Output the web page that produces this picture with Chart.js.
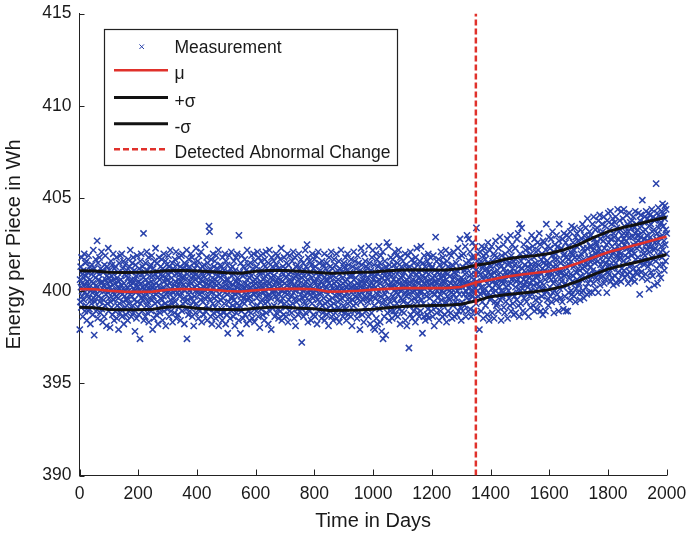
<!DOCTYPE html>
<html><head><meta charset="utf-8">
<script src="https://cdn.jsdelivr.net/npm/chart.js@4.4.1/dist/chart.umd.min.js"></script>
<style>html,body{margin:0;padding:0;background:#fff}canvas{display:block}</style>
</head><body>
<canvas id="c" width="686" height="533" style="width:686px;height:533px"></canvas>
<script>
// Measurement: one value per day (day 1 .. 2000), Energy per Piece in Wh
const measurement = [
397.9,400.6,399.4,401.3,400.2,399.1,401.8,400.4,399.7,400.9,398.6,400.0,401.1,399.5,400.7,402.0,399.9,398.9,400.3,401.5,
400.8,399.2,400.1,401.6,398.4,400.5,399.8,401.0,400.3,398.9,401.9,399.6,400.2,399.0,401.3,400.6,398.2,400.0,401.1,399.5,
399.3,400.9,401.4,399.9,398.7,400.4,402.2,399.6,400.1,397.6,401.2,400.0,399.4,400.7,401.7,398.9,400.3,399.8,401.0,402.7,
400.2,398.5,401.5,399.7,400.6,399.1,400.9,401.8,399.4,400.0,398.8,401.2,400.4,399.6,402.1,399.0,400.5,401.1,398.3,400.1,
401.0,399.5,400.3,398.6,401.4,400.0,399.2,401.9,400.6,399.8,400.1,398.1,400.8,401.3,399.3,400.4,399.9,402.3,398.9,400.7,
399.6,401.1,400.2,398.0,400.5,399.4,401.6,400.0,399.1,400.8,401.4,398.7,399.9,400.3,402.0,399.5,400.6,398.4,401.2,399.8,
400.4,398.9,401.3,399.7,400.0,401.8,398.5,400.7,399.2,400.2,401.0,399.6,397.9,400.5,401.5,399.3,400.1,398.8,401.9,399.9,
400.6,399.0,400.3,402.0,398.6,399.8,401.2,400.1,399.4,401.6,398.2,400.4,399.7,400.9,401.4,399.1,400.0,398.7,400.8,399.5,
401.1,399.6,400.2,398.4,400.7,401.7,399.3,400.0,398.9,401.3,400.5,399.8,402.2,399.0,400.3,398.6,401.0,399.7,400.6,401.5,
399.2,400.4,401.8,398.8,400.1,399.5,401.1,400.6,397.8,400.0,401.4,399.9,400.8,398.5,400.3,401.9,399.4,400.2,399.1,400.9,
400.5,398.7,401.2,399.8,400.0,397.4,401.6,399.3,400.4,402.0,399.6,400.9,398.9,400.2,401.3,399.5,400.7,403.1,398.4,400.1,
399.7,401.0,400.3,398.6,401.5,399.9,400.6,399.2,402.1,400.0,398.8,401.1,399.4,400.4,401.8,398.3,400.2,399.6,400.8,401.3,
400.0,399.1,401.4,398.9,400.5,401.9,399.5,400.2,397.9,400.8,401.2,399.7,400.3,398.5,401.6,400.1,399.3,400.9,402.3,399.8,
400.4,398.7,400.0,401.5,399.4,400.7,398.2,401.0,399.9,400.3,401.8,399.0,400.6,398.8,400.1,401.3,399.6,400.9,399.2,401.7,
399.5,400.8,398.4,401.2,400.2,399.7,402.0,398.9,400.5,401.1,399.3,400.0,401.6,398.1,400.7,399.8,401.4,400.3,399.0,400.9,
400.6,399.2,401.9,400.0,398.6,401.3,399.8,400.4,402.2,399.5,400.1,398.9,401.0,400.7,399.3,401.5,398.3,400.2,401.2,399.9,
401.1,399.6,400.3,398.8,401.7,400.5,399.4,400.0,402.1,398.5,400.9,401.4,399.9,400.2,398.7,401.0,400.6,399.1,401.8,400.4,
399.7,400.9,401.3,398.4,400.5,399.9,401.9,400.1,398.9,400.7,402.0,399.3,400.3,401.2,399.6,400.8,398.2,401.5,400.0,399.4,
400.6,401.4,399.0,400.2,402.2,397.4,400.9,399.5,401.1,400.3,398.7,401.7,399.8,400.0,401.3,398.9,400.5,399.2,402.0,400.7,
399.6,400.4,401.8,398.6,400.1,401.0,399.4,400.8,398.1,401.5,400.2,399.7,401.2,400.6,398.8,400.0,402.3,399.3,400.9,401.4,
400.3,399.1,401.6,400.0,398.5,400.7,401.9,399.8,400.4,398.9,401.2,400.1,399.5,402.1,400.6,398.3,401.0,399.9,400.5,401.3,
399.4,400.8,398.7,401.4,400.2,399.6,402.5,400.0,398.9,401.1,400.4,399.2,401.8,400.6,398.4,400.1,401.5,399.7,400.9,399.0,
403.5,400.3,403.2,399.5,401.2,400.0,398.6,401.7,399.9,400.5,398.2,401.0,400.7,399.3,402.0,400.2,398.8,401.3,399.6,400.4,
401.6,399.1,400.6,398.5,400.0,401.9,399.7,400.3,398.9,401.2,400.8,399.4,402.2,398.1,400.4,401.0,399.8,400.1,398.7,401.4,
399.5,400.7,401.3,399.0,400.2,398.4,401.8,400.0,399.6,400.9,398.8,401.1,399.3,400.5,402.0,399.9,400.3,398.2,401.6,400.6,
400.1,398.7,401.4,399.8,397.7,400.6,401.0,399.4,400.2,401.9,399.1,400.4,398.5,401.2,400.0,399.6,402.1,398.9,400.8,399.7,
401.3,399.2,400.3,398.6,400.9,401.6,399.5,400.0,398.1,401.1,400.5,399.8,401.8,398.8,400.2,399.3,402.0,400.7,399.0,400.4,
399.9,398.4,403.0,400.6,399.2,401.0,400.1,397.7,401.5,399.7,400.3,398.9,401.9,400.0,399.4,400.8,398.5,401.3,399.6,400.2,
400.9,399.3,401.7,398.7,400.4,399.8,401.1,400.0,398.2,400.6,402.2,399.5,400.3,401.4,398.9,400.1,399.6,401.0,398.4,400.7,
399.7,401.5,400.2,398.8,400.8,401.9,399.4,400.0,398.5,401.2,400.5,399.1,402.0,400.3,399.8,398.3,401.6,400.6,399.9,400.1,
400.4,398.9,401.3,399.6,400.7,402.1,399.2,400.0,398.6,401.8,400.2,399.8,401.0,398.0,400.9,399.4,400.5,401.6,399.0,400.3,
401.1,399.5,400.2,398.7,402.0,400.6,399.9,401.4,398.4,400.0,401.7,399.3,400.8,399.7,402.1,398.8,400.3,401.2,399.6,400.5,
399.4,400.9,398.2,401.5,400.1,399.8,402.2,400.4,398.9,401.0,399.6,400.7,397.9,401.8,400.2,399.1,400.6,401.3,399.9,400.0,
400.8,401.6,399.2,400.3,398.6,401.1,400.0,399.7,402.0,400.5,398.8,401.4,399.5,400.1,401.9,399.0,400.7,398.5,401.2,400.4,
399.8,400.2,401.7,398.9,400.6,399.4,402.3,400.0,398.4,401.0,400.5,399.6,401.3,400.9,398.7,400.1,401.8,399.3,400.4,399.9,
401.2,399.1,400.7,398.6,401.5,400.3,399.8,402.0,400.0,398.3,400.9,401.4,399.5,400.2,398.9,401.9,400.6,399.2,400.4,401.0,
399.7,400.5,398.8,401.6,400.1,399.3,401.1,402.1,399.9,400.7,398.5,400.3,401.8,399.6,400.0,398.1,401.3,400.8,399.4,400.2,
400.9,399.0,401.4,400.3,398.7,400.6,402.0,399.5,400.1,401.2,398.9,400.4,399.8,401.7,400.2,399.1,397.2,400.7,401.0,399.6,
400.0,401.5,398.6,400.8,399.4,401.1,400.3,399.7,402.2,398.8,400.5,401.3,399.2,400.1,402.5,399.9,400.6,398.3,401.8,400.2,
399.5,400.9,401.6,398.9,400.3,399.8,401.0,400.0,398.4,401.4,400.7,399.3,402.0,400.1,399.6,401.2,398.7,400.5,399.9,401.7,
400.4,398.6,401.3,399.7,400.0,401.9,399.1,400.6,398.2,401.0,400.2,399.5,402.1,400.8,398.9,400.3,401.5,399.4,400.1,399.8,
401.1,399.9,400.5,398.5,400.9,401.6,399.2,400.0,398.8,401.4,400.3,399.6,400.7,402.0,398.4,400.1,399.3,401.2,400.6,399.0,
400.2,398.7,401.5,399.4,400.6,399.8,401.0,398.1,400.4,401.8,399.5,400.0,398.9,401.3,400.7,399.2,402.1,400.3,398.6,400.9,
399.6,401.2,400.1,398.4,400.8,399.3,401.7,400.4,399.0,400.0,398.8,401.4,399.7,400.5,402.0,398.5,400.2,399.9,401.1,399.4,
400.6,399.1,401.6,400.0,398.3,400.9,399.8,401.2,399.5,400.3,402.2,398.9,400.1,399.6,401.0,400.7,398.6,400.4,399.2,401.5,
400.0,398.8,401.3,399.7,400.5,401.8,399.0,400.2,398.4,401.1,399.9,400.6,402.0,399.3,400.3,398.7,401.4,400.1,399.6,400.8,
399.4,401.0,400.4,398.6,401.7,399.9,400.2,398.1,400.8,401.3,399.5,400.0,399.2,402.1,400.6,398.9,400.3,401.6,399.7,400.1,
400.7,399.3,401.2,400.0,398.5,400.4,401.9,399.6,400.1,398.8,401.5,400.3,399.8,400.9,397.9,401.1,400.2,399.4,402.3,400.5,
399.9,401.4,398.7,400.6,399.5,401.0,400.2,398.3,400.8,402.0,399.7,400.4,401.6,399.1,400.0,398.9,401.3,400.5,399.6,400.1,
401.2,399.4,400.7,398.6,402.4,400.0,399.8,401.5,400.3,398.2,400.9,399.5,401.1,400.4,398.8,401.8,400.1,399.7,402.2,400.6,
398.0,400.3,401.4,399.2,400.8,397.9,401.0,400.2,399.6,402.0,398.5,400.5,401.7,399.8,398.2,400.9,401.3,399.4,400.0,402.4,
400.6,399.0,401.5,398.3,400.4,401.9,399.7,400.1,397.8,401.2,400.7,399.3,402.1,397.4,400.2,401.0,399.5,398.6,400.8,401.6,
399.8,400.5,397.6,401.3,400.0,399.2,402.6,400.7,398.8,401.1,400.3,399.6,402.4,398.4,400.9,401.4,399.4,400.2,398.9,401.8,
400.4,399.1,401.0,400.8,398.5,400.2,401.7,399.7,400.6,398.9,401.4,400.0,399.5,402.1,400.3,398.7,401.2,399.9,400.5,401.9,
399.3,400.9,401.5,398.6,400.1,399.8,402.2,400.6,399.0,401.1,400.4,398.2,401.8,400.0,399.6,400.7,401.3,398.9,400.2,399.5,
400.8,401.6,399.4,400.3,398.8,401.0,400.5,399.9,402.0,398.4,400.2,401.4,399.7,400.6,398.1,401.2,400.0,399.3,401.9,400.4,
399.8,396.9,400.7,401.3,399.2,400.1,402.1,398.7,400.9,400.4,399.5,401.7,398.5,400.2,401.0,399.9,400.6,398.9,401.5,400.0,
401.2,399.6,400.3,398.3,401.8,400.5,399.1,400.9,402.3,399.4,400.1,398.8,401.4,400.7,399.7,401.0,398.6,400.4,401.6,399.9,
400.0,398.9,402.4,400.6,399.5,401.1,400.2,397.7,400.8,401.5,399.3,400.4,398.6,401.9,400.1,399.8,401.3,398.4,400.7,400.3,
401.0,399.7,400.5,398.7,401.6,400.2,399.0,402.0,400.9,398.5,400.3,401.4,399.6,400.0,401.8,399.2,400.6,398.9,401.2,400.4,
399.9,401.3,398.6,400.7,401.9,399.4,400.2,398.1,400.8,401.1,399.8,400.5,402.9,399.1,400.4,401.6,398.8,400.0,401.0,399.6,
400.6,399.3,401.7,400.1,398.4,400.9,401.4,399.8,400.3,398.9,402.1,400.7,399.5,400.0,401.2,398.6,400.5,401.8,399.2,400.8,
401.5,399.9,400.4,398.7,401.0,400.2,399.4,402.2,400.6,398.3,400.1,401.6,399.7,400.9,398.9,401.3,400.3,399.6,402.0,400.0,
399.5,400.8,401.2,398.8,400.4,401.9,399.9,400.1,398.5,401.4,400.6,399.2,400.3,402.1,399.8,400.7,398.6,401.0,400.2,399.4,
400.9,399.6,401.5,400.3,398.7,401.1,400.0,399.3,402.3,400.6,398.9,401.8,400.2,399.8,400.5,402.8,399.1,401.2,400.4,398.4,
400.7,401.9,399.4,400.2,401.3,398.9,400.6,402.0,399.8,400.4,401.1,399.2,400.9,402.4,400.0,398.6,401.5,400.3,399.6,403.0,
401.2,399.8,400.5,398.9,402.8,400.1,401.6,399.5,400.8,402.1,399.0,400.3,401.4,398.6,400.9,401.8,399.7,400.4,402.6,400.0,
399.9,401.3,400.6,398.9,401.8,400.2,402.4,399.6,400.9,401.1,399.3,403.4,400.5,398.8,401.6,400.0,402.0,399.7,401.4,400.3,
401.0,397.9,400.4,402.1,399.8,400.9,401.6,398.9,400.2,402.4,400.7,399.4,401.3,400.0,398.5,401.9,400.6,399.9,402.3,401.1,
400.1,401.7,399.2,400.8,402.0,399.7,401.2,400.4,398.7,401.5,402.6,399.9,400.6,401.0,398.4,400.3,402.2,401.4,399.5,400.9,
401.3,399.6,400.8,402.4,400.1,398.8,401.6,400.5,399.9,402.0,401.0,398.5,400.7,401.9,399.4,400.3,402.7,400.0,401.4,399.2,
400.4,401.8,399.3,401.1,400.6,398.9,402.3,400.9,399.8,401.5,400.2,402.9,399.5,400.7,401.3,398.4,400.0,401.9,400.5,399.7,
401.6,399.9,400.4,402.5,399.1,400.8,401.2,398.8,400.6,402.0,401.0,399.4,400.2,401.7,399.8,400.9,402.8,398.5,401.4,400.3,
400.0,401.5,399.6,402.2,400.8,399.2,401.0,403.0,400.4,398.9,401.9,400.6,399.8,402.5,401.2,399.3,400.7,401.6,398.7,400.9,
401.4,399.7,400.9,402.3,400.2,398.8,401.7,400.5,399.5,402.8,401.0,399.9,400.6,403.1,399.2,401.3,400.1,398.6,403.6,400.8,
402.0,400.4,399.3,401.6,400.9,403.4,399.8,401.2,400.1,398.9,401.8,400.6,402.5,399.6,400.3,401.4,398.8,400.8,402.2,401.0,
400.5,401.9,399.4,400.9,402.7,399.9,401.3,400.2,398.6,401.6,400.7,402.3,399.7,401.0,400.4,399.1,402.0,401.4,400.0,403.0,
401.2,399.8,400.6,402.4,401.0,399.2,400.3,401.8,398.9,402.8,400.9,400.0,401.5,399.5,402.1,400.7,401.3,399.0,400.4,402.6,
400.8,402.2,399.6,401.4,400.2,403.1,399.3,401.0,402.5,400.5,398.9,401.7,400.9,399.7,402.0,401.2,400.1,398.7,402.7,401.5,
400.3,401.8,402.6,399.8,401.1,400.6,398.9,402.2,401.4,403.6,400.0,401.6,399.5,400.9,402.4,401.0,399.2,401.3,402.9,400.7,
401.5,400.2,402.3,399.7,401.0,402.8,400.6,399.4,401.9,400.9,403.2,399.9,401.3,400.4,402.1,398.8,401.7,400.0,402.5,401.2,
400.6,402.0,401.4,399.5,403.0,400.9,401.7,399.8,402.4,400.3,401.1,398.9,402.7,403.6,401.0,400.1,402.2,399.6,401.5,400.7,
402.3,400.5,401.0,399.4,402.8,401.6,400.2,399.0,401.9,403.1,400.8,402.0,399.7,401.3,400.4,402.6,398.9,401.8,400.9,403.0,
401.2,400.3,398.9,402.4,401.7,399.9,402.9,400.7,401.4,399.5,403.2,400.9,402.1,400.0,401.6,403.5,399.8,402.0,400.5,401.9,
402.6,400.8,401.3,399.7,402.2,403.4,400.4,401.8,399.4,402.9,401.0,400.1,402.4,403.1,400.6,401.5,399.9,402.7,401.2,400.3,
401.8,400.4,402.5,401.1,399.5,403.3,400.8,402.0,401.5,399.9,402.8,400.6,403.6,401.2,400.0,402.3,401.7,399.6,403.0,401.3,
402.1,400.7,401.5,403.4,400.2,402.7,401.0,399.8,402.3,403.9,401.4,400.4,402.9,401.8,400.9,399.9,403.2,401.6,402.4,400.6,
401.3,403.0,400.8,402.4,401.9,399.9,403.6,401.1,402.2,400.4,404.0,401.7,400.9,402.8,401.5,400.1,403.3,402.0,400.7,402.6,
402.5,401.0,403.4,400.6,402.1,401.6,399.9,403.8,402.3,400.9,401.9,404.1,400.3,402.8,401.4,403.1,400.7,402.0,401.2,403.6,
401.6,403.2,400.8,402.7,401.9,404.0,400.4,402.3,401.1,403.5,402.0,400.6,403.0,401.5,402.5,399.9,403.8,401.3,402.9,401.0,
404.2,401.7,402.6,400.9,403.3,401.4,402.1,404.3,400.5,402.8,401.9,403.6,400.7,402.4,401.2,403.9,402.0,400.3,403.1,401.6,
402.9,401.3,403.7,400.8,402.2,404.0,401.5,402.6,400.4,403.4,401.9,402.4,404.4,401.0,402.8,400.6,403.2,401.7,402.1,403.8,
401.8,403.3,402.0,400.5,404.3,402.6,401.2,403.0,402.3,400.9,403.9,401.6,402.8,404.4,401.1,403.5,400.7,402.5,401.9,403.2,
403.0,401.5,402.7,404.1,400.9,402.3,403.6,401.8,400.4,403.2,402.1,404.2,401.3,402.9,401.0,403.7,402.4,400.6,403.4,401.9,
402.2,403.8,401.4,402.9,400.8,404.0,402.5,401.2,403.4,402.0,400.5,403.1,404.3,401.7,402.6,401.0,403.6,402.3,400.9,403.0,
403.3,401.8,402.7,404.2,401.2,403.0,402.4,399.8,403.8,401.5,402.9,404.1,401.0,402.6,403.5,400.7,404.9,402.2,401.6,403.2,
402.0,403.7,401.4,402.8,404.0,401.9,403.3,400.9,402.5,404.3,401.6,403.0,402.2,400.6,403.9,402.7,401.3,404.2,402.4,400.1,
403.5,402.1,404.1,401.5,402.9,403.6,401.0,402.4,404.4,401.8,403.2,400.8,402.7,404.0,401.7,403.3,402.2,400.3,403.8,402.6,
402.3,403.9,401.6,405.8,402.8,401.2,404.2,403.1,400.4,402.6,404.5,401.9,403.4,400.9,402.9,404.0,401.4,403.6,402.1,400.7,
403.7,402.4,404.3,401.8,403.0,404.7,402.2,401.4,403.5,404.1,402.7,401.1,403.9,404.6,402.5,401.6,403.3,404.4,402.0,403.1
];

// Moving statistics (read at every 50 days)
const lineDays = [0,50,100,150,200,250,300,350,400,450,500,550,600,650,700,750,800,850,900,950,1000,
  1050,1100,1150,1200,1250,1300,1350,1400,1450,1500,1550,1600,1650,1700,1750,1800,1850,1900,1950,2000];
const muValues = [400.09,400.08,400.0,399.95,399.94,399.95,400.05,400.09,400.08,400.05,399.99,399.96,400.03,400.08,400.1,400.1,400.08,399.95,399.96,400.0,400.06,
  400.1,400.14,400.14,400.14,400.14,400.2,400.45,400.6,400.75,400.87,400.96,401.05,401.25,401.5,401.8,402.08,402.3,402.5,402.72,402.94];
const plusSigma = [401.08,401.07,401.0,400.99,401.0,401.03,401.08,401.09,401.07,401.03,400.97,400.95,401.05,401.09,401.09,401.06,401.0,400.95,400.96,401.0,401.02,
  401.08,401.12,401.13,401.12,401.12,401.2,401.38,401.5,401.7,401.83,401.9,402.02,402.22,402.5,402.88,403.2,403.42,403.6,403.8,403.98];
const minusSigma = [399.11,399.08,398.98,398.97,398.97,399.0,399.12,399.14,399.05,399.0,398.98,398.97,399.05,399.11,399.1,399.05,399.02,398.93,398.94,398.96,399.0,
  399.08,399.15,399.17,399.2,399.22,399.27,399.45,399.68,399.78,399.87,399.95,400.06,400.25,400.53,400.87,401.17,401.38,401.56,401.76,401.96];
const abnormalChangeDay = 1350;

const xTickValues = [0,200,400,600,800,1000,1200,1400,1600,1800,2000];
const yTickValues = [390,395,400,405,410,415];
const seriesLabels = ['Measurement','\u03BC','+\u03C3','-\u03C3','Detected Abnormal Change'];

const BLUE = '#2942ab', RED = '#e0312b', BLACK = '#121212';
const FONT = "'Liberation Sans', Arial, Helvetica, sans-serif";

const pts = (xs, ys) => xs.map((x, i) => ({x, y: ys[i]}));
const measurementPts = measurement.map((v, i) => ({x: i + 1, y: v}));
const yMin = yTickValues[0], yMax = yTickValues[yTickValues.length - 1];

const inwardTicks = {
  id: 'inwardTicks',
  afterDatasetsDraw(chart) {
    const {ctx, chartArea: a, scales: {x, y}} = chart;
    ctx.save();
    ctx.strokeStyle = '#222';
    ctx.lineWidth = 1;
    ctx.beginPath();
    x.ticks.forEach(t => {
      const px = Math.round(x.getPixelForValue(t.value)) + 0.5;
      ctx.moveTo(px, a.bottom); ctx.lineTo(px, a.bottom - 6);
    });
    y.ticks.forEach(t => {
      const py = Math.round(y.getPixelForValue(t.value)) + 0.5;
      ctx.moveTo(a.left, py); ctx.lineTo(a.left + 5, py);
    });
    ctx.stroke();
    ctx.restore();
  }
};

const boxLegend = {
  id: 'boxLegend',
  afterDraw(chart) {
    const ctx = chart.ctx;
    ctx.save();
    const bx = 104.5, by = 29.5, bw = 293, bh = 136;
    ctx.fillStyle = '#fff';
    ctx.fillRect(bx, by, bw, bh);
    ctx.strokeStyle = '#222';
    ctx.lineWidth = 1.2;
    ctx.strokeRect(bx, by, bw, bh);
    const baselines = [53.2, 79.3, 106.5, 132.8, 158.3];
    const x0 = 114, x1 = 168, tx = 174.5;
    chart.data.datasets.forEach((ds, i) => {
      const b = baselines[i];
      ctx.save();
      if (i === 0) {
        const cx = 141.7, cy = b - 6.5, r = 2.3;
        ctx.strokeStyle = ds.borderColor; ctx.lineWidth = 1;
        ctx.beginPath();
        ctx.moveTo(cx - r, cy - r); ctx.lineTo(cx + r, cy + r);
        ctx.moveTo(cx + r, cy - r); ctx.lineTo(cx - r, cy + r);
        ctx.stroke();
      } else {
        const ly = b - 9;
        ctx.strokeStyle = ds.borderColor;
        ctx.lineWidth = ds.borderWidth;
        ctx.setLineDash(ds.borderDash || []);
        ctx.beginPath(); ctx.moveTo(x0, ly); ctx.lineTo(x1, ly); ctx.stroke();
      }
      ctx.restore();
      ctx.fillStyle = '#1a1a1a';
      ctx.font = '17.5px ' + FONT;
      ctx.textBaseline = 'alphabetic';
      ctx.textAlign = 'left';
      ctx.fillText(ds.label, tx, b);
    });
    ctx.restore();
  }
};

const noScalePadding = s => { s.paddingTop = 0; s.paddingBottom = 0; s.paddingLeft = 0; s.paddingRight = 0; };

new Chart(document.getElementById('c'), {
  type: 'scatter',
  data: {
    datasets: [
      { label: seriesLabels[0], data: measurementPts, pointStyle: 'crossRot', pointRadius: 4.4,
        borderColor: BLUE, backgroundColor: BLUE, pointBorderWidth: 1.5, borderWidth: 1.5, order: 5, clip: false },
      { label: seriesLabels[1], data: pts(lineDays, muValues), showLine: true, pointRadius: 0,
        borderColor: RED, borderWidth: 2.6, order: 3 },
      { label: seriesLabels[2], data: pts(lineDays, plusSigma), showLine: true, pointRadius: 0,
        borderColor: BLACK, borderWidth: 3, order: 2 },
      { label: seriesLabels[3], data: pts(lineDays, minusSigma), showLine: true, pointRadius: 0,
        borderColor: BLACK, borderWidth: 3, order: 2 },
      { label: seriesLabels[4], data: [{x: abnormalChangeDay, y: yMin}, {x: abnormalChangeDay, y: yMax}],
        showLine: true, pointRadius: 0, borderColor: RED, borderWidth: 2.5, borderDash: [6, 3], order: 0 }
    ]
  },
  options: {
    responsive: false,
    animation: false,
    devicePixelRatio: 1,
    events: [],
    layout: { padding: { top: 13.6, right: 19.3, bottom: 0, left: 0 } },
    plugins: { legend: { display: false }, tooltip: { enabled: false } },
    scales: {
      x: {
        type: 'linear', min: xTickValues[0], max: xTickValues[xTickValues.length - 1],
        afterBuildTicks: s => { s.ticks = xTickValues.map(v => ({value: v})); },
        afterFit: s => { s.height = 57.5; noScalePadding(s); },
        grid: { display: false, drawTicks: false },
        border: { display: true, color: '#222', width: 1 },
        ticks: { color: '#1a1a1a', padding: 8, maxRotation: 0, autoSkip: false,
                 callback: v => String(v),
                 font: { family: FONT, size: 17.5 } },
        title: { display: true, text: 'Time in Days', color: '#1a1a1a', padding: { top: 0, bottom: 0 },
                 font: { family: FONT, size: 20 } }
      },
      y: {
        type: 'linear', min: yMin, max: yMax,
        afterBuildTicks: s => { s.ticks = yTickValues.map(v => ({value: v})); },
        afterFit: s => { s.width = 79.5; noScalePadding(s); },
        grid: { display: false, drawTicks: false },
        border: { display: true, color: '#222', width: 1 },
        ticks: { color: '#1a1a1a', padding: 8, autoSkip: false,
                 callback: v => String(v),
                 font: { family: FONT, size: 17.5 } },
        title: { display: true, text: 'Energy per Piece in Wh', color: '#1a1a1a', padding: { top: 2, bottom: 0 },
                 font: { family: FONT, size: 20 } }
      }
    }
  },
  plugins: [inwardTicks, boxLegend]
});
</script>
</body></html>
